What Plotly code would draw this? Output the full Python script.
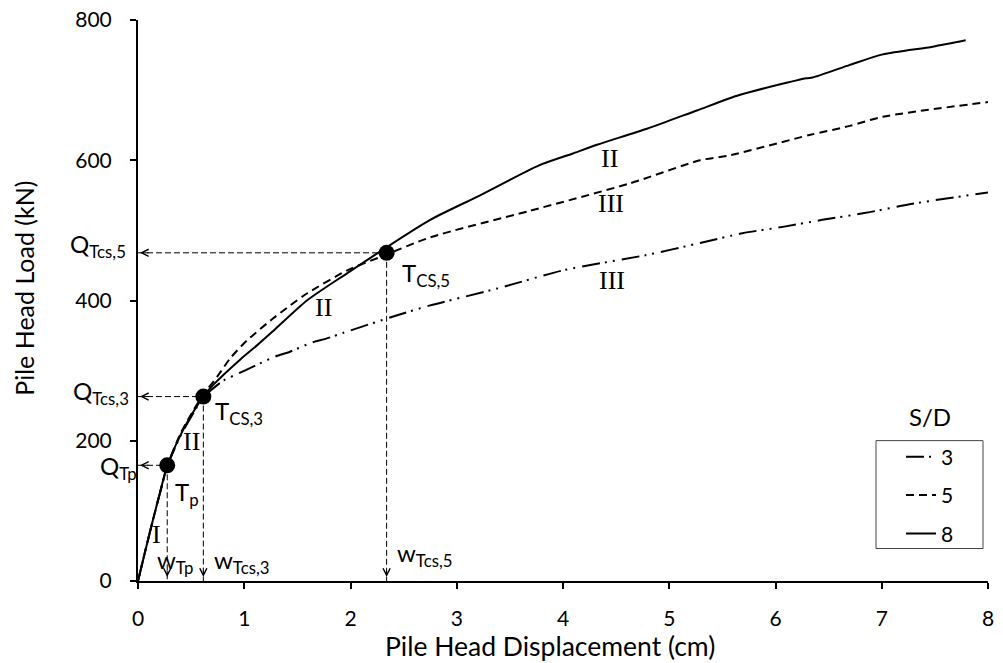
import plotly.graph_objects as go

# ---------------- data ----------------
x_sd3 = [0, 0.07, 0.149, 0.21, 0.275, 0.40, 0.524,
         0.615, 0.806, 0.947, 1.088, 1.29, 1.43, 1.637, 1.778, 1.934, 2.44, 2.75, 3.38,
         4.0, 4.79, 5.29, 5.69, 6.07, 6.44, 6.85, 7.29, 8.0]
y_sd3 = [0, 44, 92, 127, 163, 207, 240,
         262, 286, 296, 306, 320, 327, 340, 346, 354, 379, 393, 417,
         443, 465, 482, 496, 505, 515, 525, 538, 554]

x_sd5 = [0, 0.07, 0.149, 0.21, 0.275, 0.40, 0.524,
         0.615, 0.744, 0.87, 1.026, 1.276, 1.433, 1.59, 1.97, 2.28, 2.75, 3.69, 4.63,
         5.29, 5.57, 6.32, 6.70, 7.01, 8.0]
y_sd5 = [0, 44, 92, 128, 164, 210, 244,
         266, 291, 318, 343, 375, 393, 410, 443, 462, 490, 528, 567,
         600, 607, 636, 649, 662, 683]

x_sd8 = [0, 0.07, 0.149, 0.21, 0.275, 0.40, 0.524,
         0.615, 0.71, 0.963, 1.12, 1.276, 1.59, 1.97, 2.28, 2.75, 3.22, 3.78, 4.10,
         4.32, 4.79, 5.26, 5.66, 6.29, 6.35, 6.70, 7.01, 7.48, 7.79]
y_sd8 = [0, 44, 92, 128, 164, 208, 242,
         263, 280, 316, 336, 357, 400, 439, 470, 515, 550, 593, 610,
         622, 645, 671, 693, 717, 718, 736, 751, 762, 771]

# transition points  (Tp, Tcs,3, Tcs,5)
pt_x = [0.275, 0.615, 2.34]
pt_y = [165, 263, 468]

legend_names = ["3", "5", "8"]

x_ticks = [0, 1, 2, 3, 4, 5, 6, 7, 8]
y_ticks = [0, 200, 400, 600, 800]

FONT = "Lato"
SERIF = "Liberation Serif"

fig = go.Figure()

# ---------------- curves ----------------
fig.add_trace(go.Scatter(x=x_sd3, y=y_sd3, mode="lines", name=legend_names[0],
                         legendgroup="a",
                         line=dict(color="black", width=2,
                                   dash="18px,5px,2px,6px,2px,7px", shape="spline", smoothing=0.7)))
fig.add_trace(go.Scatter(x=x_sd5, y=y_sd5, mode="lines", name=legend_names[1],
                         legendgroup="b",
                         line=dict(color="black", width=2, dash="8px,5px", shape="spline", smoothing=0.7)))
fig.add_trace(go.Scatter(x=x_sd8, y=y_sd8, mode="lines", name=legend_names[2],
                         legendgroup="c",
                         line=dict(color="black", width=2, shape="spline", smoothing=0.7)))

# ---------------- guide lines ----------------
for px, py in zip(pt_x, pt_y):
    fig.add_trace(go.Scatter(x=[0, px], y=[py, py], mode="lines", showlegend=False,
                             hoverinfo="skip",
                             line=dict(color="black", width=1, dash="6px,3px")))
    fig.add_trace(go.Scatter(x=[px, px], y=[py, 0], mode="lines", showlegend=False,
                             hoverinfo="skip",
                             line=dict(color="black", width=1, dash="6px,3px")))
    # arrow heads
    fig.add_annotation(x=0, y=py, xref="x", yref="y", ax=12, ay=0, text="",
                       showarrow=True, arrowhead=5, arrowsize=1.4, arrowwidth=1,
                       arrowcolor="black", standoff=2)
    fig.add_annotation(x=px, y=0, xref="x", yref="y", ax=0, ay=-12, text="",
                       showarrow=True, arrowhead=5, arrowsize=1.4, arrowwidth=1,
                       arrowcolor="black", standoff=4)

# markers
fig.add_trace(go.Scatter(x=pt_x, y=pt_y, mode="markers", showlegend=False,
                         marker=dict(color="black", size=16)))

# ---------------- text labels ----------------
lab_font = dict(family=FONT, size=24, color="black")
# Q labels sit left of the y axis (x=0 + pixel shift)
q_labels = [("Q<sub>Tcs,5</sub>", 478, -10),
            ("Q<sub>Tcs,3</sub>", 269, -7),
            ("Q<sub>Tp</sub>", 162, 1)]
for t, ly, sh in q_labels:
    fig.add_annotation(x=0, y=ly, xref="x", yref="y", text=t, showarrow=False,
                       xanchor="right", yanchor="middle", xshift=sh, font=lab_font)

labels = [
    ("T<sub>p</sub>", 0.334, 125),
    ("T<sub>CS,3</sub>", 0.71, 240),
    ("T<sub>CS,5</sub>", 2.467, 437),
    ("w<sub>Tp</sub>", 0.164, 28),
    ("w<sub>Tcs,3</sub>", 0.70, 28),
    ("w<sub>Tcs,5</sub>", 2.42, 38),
]
for t, lx, ly in labels:
    fig.add_annotation(x=lx, y=ly, xref="x", yref="y", text=t, showarrow=False,
                       xanchor="left", yanchor="middle", font=lab_font)

roman = [("I", 0.174, 66), ("II", 0.503, 199), ("II", 1.743, 390),
         ("II", 4.441, 602), ("III", 4.451, 538), ("III", 4.46, 428)]
for t, lx, ly in roman:
    fig.add_annotation(x=lx, y=ly, xref="x", yref="y", text=t, showarrow=False,
                       xanchor="center", yanchor="middle",
                       font=dict(family=SERIF, size=26, color="black"))

# axis titles (placed as in the reference, slightly off-centre)
fig.add_annotation(x=(550 - 138) / 850, y=(581.5 - 647) / 561.5, xref="paper", yref="paper",
                   text="Pile Head Displacement (cm)", showarrow=False,
                   xanchor="center", yanchor="middle",
                   font=dict(family=FONT, size=26.5, color="black"))
fig.add_annotation(x=(24 - 138) / 850, y=(581.5 - 289) / 561.5, xref="paper", yref="paper",
                   text="Pile Head Load (kN)", showarrow=False, textangle=-90,
                   xanchor="center", yanchor="middle",
                   font=dict(family=FONT, size=25, color="black"))

# legend title + box
fig.add_annotation(x=(930 - 138) / 850, y=(581.5 - 417) / 561.5, xref="paper", yref="paper",
                   text="S/D", showarrow=False, xanchor="center", yanchor="middle",
                   font=dict(family=FONT, size=24, color="black"))
fig.add_shape(type="rect", xref="paper", yref="paper",
              x0=(876 - 138) / 850, x1=(983 - 138) / 850,
              y0=(581.5 - 549) / 561.5, y1=(581.5 - 441) / 561.5,
              line=dict(color="#444", width=1), fillcolor="rgba(0,0,0,0)", layer="above")

axis_common = dict(showline=True, linecolor="black", linewidth=2, ticks="outside",
                   ticklen=6, tickwidth=2, tickcolor="black", showgrid=False,
                   zeroline=False, automargin=False,
                   tickfont=dict(family=FONT, size=21, color="black"))

fig.update_layout(
    width=1003, height=663,
    margin=dict(l=138, r=15, t=20, b=82, autoexpand=False),
    paper_bgcolor="white", plot_bgcolor="white",
    showlegend=True,
    legend=dict(x=(901 - 138) / 850, y=(581.5 - 437) / 561.5, xanchor="left", yanchor="top",
                bgcolor="rgba(0,0,0,0)", borderwidth=0, traceorder="grouped",
                tracegroupgap=8, font=dict(family=FONT, size=21, color="black")),
    xaxis=dict(range=[0, 8], tickvals=x_ticks, ticklabelstandoff=12, **axis_common),
    yaxis=dict(range=[0, 800], tickvals=y_ticks, ticklabelstandoff=14, **axis_common),
)

fig.write_html("out.html", config={"displayModeBar": False},
               post_script="document.body.style.margin='0';document.body.style.overflow='hidden';")
